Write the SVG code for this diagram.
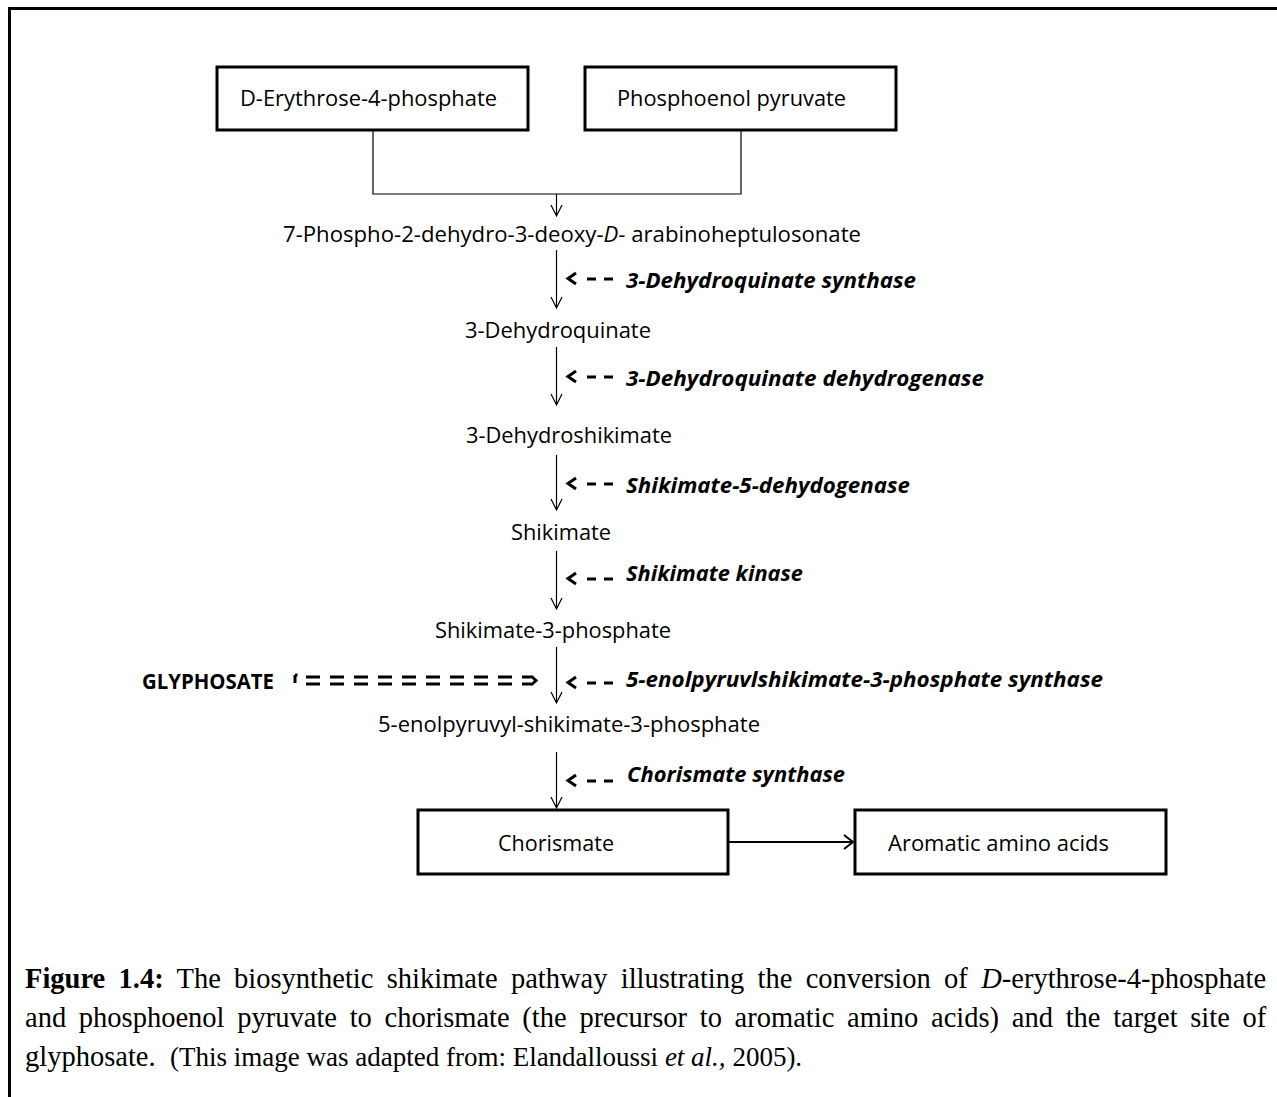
<svg xmlns="http://www.w3.org/2000/svg" width="1277" height="1097" viewBox="0 0 1277 1097">
<defs>
<style>
.lbl{font-family:"Open Sans","Liberation Sans",sans-serif;font-size:22px;fill:#000}
.enz{font-family:"Open Sans","Liberation Sans",sans-serif;font-size:21.5px;font-weight:bold;font-style:italic;fill:#000}
.cap{font-family:"Liberation Serif","Times New Roman",serif;font-size:28.5px;fill:#000}
.box{fill:#fff;stroke:#000;stroke-width:3}
.thin{fill:none;stroke:#000;stroke-width:1.2}
.bold{fill:none;stroke:#000;stroke-width:3}
</style>
</defs>
<rect width="1277" height="1097" fill="#fff"/>
<path d="M9.5,1097 V8.5 H1277" fill="none" stroke="#000" stroke-width="3"/>

<g id="n-erythrose">
<rect class="box" x="217" y="67" width="311" height="63"/>
<text class="lbl" x="240" y="106" textLength="257" lengthAdjust="spacingAndGlyphs">D-Erythrose-4-phosphate</text>
</g>
<g id="n-pep">
<rect class="box" x="585" y="67" width="311" height="63"/>
<text class="lbl" x="617" y="106" textLength="229" lengthAdjust="spacingAndGlyphs">Phosphoenol pyruvate</text>
</g>
<g id="n-dahp">
<text class="lbl" x="283" y="242" textLength="578" lengthAdjust="spacingAndGlyphs">7-Phospho-2-dehydro-3-deoxy-<tspan font-style="italic">D</tspan>-  arabinoheptulosonate</text>
</g>
<g id="n-dhq">
<text class="lbl" x="465" y="338" textLength="186" lengthAdjust="spacingAndGlyphs">3-Dehydroquinate</text>
</g>
<g id="n-dhs">
<text class="lbl" x="466" y="443" textLength="206" lengthAdjust="spacingAndGlyphs">3-Dehydroshikimate</text>
</g>
<g id="n-shik">
<text class="lbl" x="511" y="540" textLength="100" lengthAdjust="spacingAndGlyphs">Shikimate</text>
</g>
<g id="n-s3p">
<text class="lbl" x="435" y="638" textLength="236" lengthAdjust="spacingAndGlyphs">Shikimate-3-phosphate</text>
</g>
<g id="n-epsp">
<text class="lbl" x="378" y="732" textLength="382" lengthAdjust="spacingAndGlyphs">5-enolpyruvyl-shikimate-3-phosphate</text>
</g>
<g id="n-chorismate">
<rect class="box" x="418" y="810" width="310" height="64"/>
<text class="lbl" x="498" y="851" textLength="116" lengthAdjust="spacingAndGlyphs">Chorismate</text>
</g>
<g id="n-aromatic">
<rect class="box" x="855" y="810" width="311" height="64"/>
<text class="lbl" x="888" y="851" textLength="221" lengthAdjust="spacingAndGlyphs">Aromatic amino acids</text>
</g>
<g id="n-glyphosate">
<text x="142" y="689" font-family="Open Sans, Liberation Sans, sans-serif" font-size="21" font-weight="bold" textLength="132" lengthAdjust="spacingAndGlyphs">GLYPHOSATE</text>
</g>

<g id="enzymes">
<text class="enz" x="626" y="288" textLength="290" lengthAdjust="spacingAndGlyphs">3-Dehydroquinate  synthase</text>
<text class="enz" x="626" y="386" textLength="358" lengthAdjust="spacingAndGlyphs">3-Dehydroquinate  dehydrogenase</text>
<text class="enz" x="626" y="493" textLength="284" lengthAdjust="spacingAndGlyphs">Shikimate-5-dehydogenase</text>
<text class="enz" x="626" y="581" textLength="177" lengthAdjust="spacingAndGlyphs">Shikimate kinase</text>
<text class="enz" x="626" y="687" textLength="477" lengthAdjust="spacingAndGlyphs">5-enolpyruvlshikimate-3-phosphate  synthase</text>
<text class="enz" x="627" y="782" textLength="218" lengthAdjust="spacingAndGlyphs">Chorismate synthase</text>
</g>

<g id="connectors">
<polyline class="thin" points="373,130 373,194 741,194 741,130"/>
<g class="thin">
<path d="M556.5,194 V216 M551,205 L556.5,216 L562,205"/>
<path d="M556.5,250 V308 M551,297 L556.5,308 L562,297"/>
<path d="M556.5,347 V405 M551,394 L556.5,405 L562,394"/>
<path d="M556.5,455 V510 M551,499 L556.5,510 L562,499"/>
<path d="M556.5,551 V609 M551,598 L556.5,609 L562,598"/>
<path d="M556.5,647 V703 M551,692 L556.5,703 L562,692"/>
<path d="M556.5,752 V808 M551,797 L556.5,808 L562,797"/>
</g>
<line x1="728" y1="842" x2="853" y2="842" stroke="#000" stroke-width="2"/>
<polyline points="844,835 853,842 844,849" fill="none" stroke="#000" stroke-width="2"/>
<g class="bold">
<polyline points="576,273 568,278.5 576,284"/><path d="M587,279 h9 M604,279 h9"/>
<polyline points="576,371 568,376.5 576,382"/><path d="M587,377 h9 M604,377 h9"/>
<polyline points="576,478 568,483.5 576,489"/><path d="M587,484 h9 M604,484 h9"/>
<polyline points="576,573 568,578.5 576,584"/><path d="M587,579 h9 M604,579 h9"/>
<polyline points="576,677 568,682.5 576,688"/><path d="M587,683 h9 M604,683 h9"/>
<polyline points="576,775 568,780.5 576,786"/><path d="M587,781 h9 M604,781 h9"/>
</g>
<g class="bold" stroke-width="2.6">
<path d="M295,675 v8 M295,675 h2.5"/>
<path d="M306,677 H531 M306,684 H531" stroke-dasharray="14 10"/>
<polyline points="531,676 536,680.5 531,685"/>
</g>
</g>

<g id="caption">
<text class="cap" x="25" y="988" word-spacing="6.2"><tspan font-weight="bold">Figure 1.4:</tspan> The biosynthetic shikimate pathway illustrating the conversion of <tspan font-style="italic">D</tspan>-erythrose-4-phosphate</text>
<text class="cap" x="25" y="1027" word-spacing="5.6">and phosphoenol pyruvate to chorismate (the precursor to aromatic amino acids) and the target site of</text>
<text class="cap" x="25" y="1066">glyphosate.<tspan x="170" font-size="27">(This image was adapted from: Elandalloussi <tspan font-style="italic">et al.,</tspan> 2005).</tspan></text>
</g>
</svg>
